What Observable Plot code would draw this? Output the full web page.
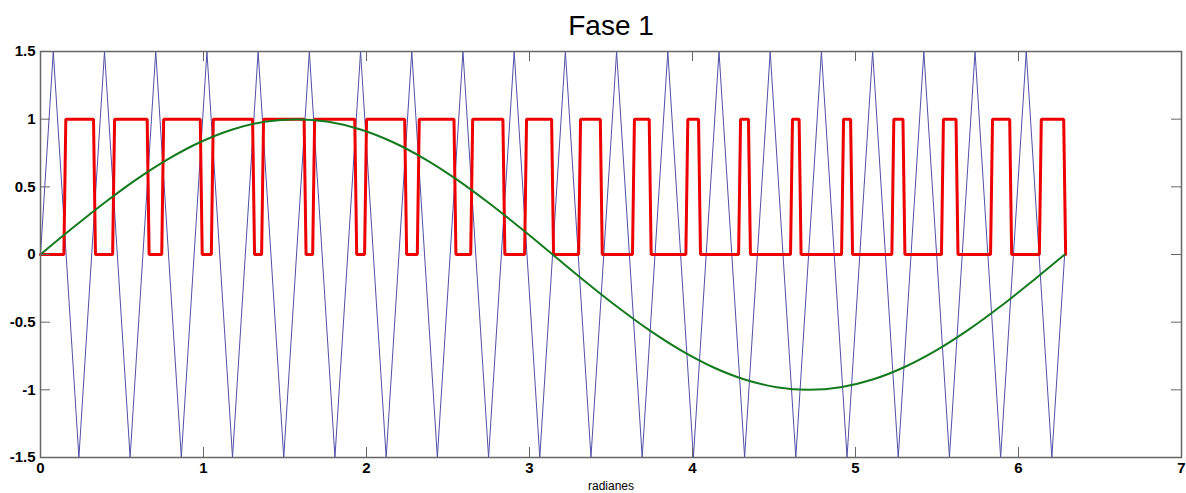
<!DOCTYPE html>
<html>
<head>
<meta charset="utf-8">
<script src="https://cdn.jsdelivr.net/npm/d3@7"></script>
<script src="https://cdn.jsdelivr.net/npm/@observablehq/plot@0.6"></script>
<style>
  html, body { margin: 0; padding: 0; background: #fff; }
  #chart svg { display: block; }
</style>
</head>
<body>
<div id="chart"></div>
<script>
// ---- data ----
const title = "Fase 1";
const xLabel = "radianes";
const xTicks = [0, 1, 2, 3, 4, 5, 6, 7];
const xTickLabels = ["0", "1", "2", "3", "4", "5", "6", "7"];
const yTicks = [-1.5, -1, -0.5, 0, 0.5, 1, 1.5];
const yTickLabels = ["-1.5", "-1", "-0.5", "0", "0.5", "1", "1.5"];

// triangular carrier: vertex times (rad) and values
const carrierT = [0,
  0.0785, 0.2356, 0.3927, 0.5498, 0.7069, 0.8639, 1.0210, 1.1781, 1.3352, 1.4923,
  1.6493, 1.8064, 1.9635, 2.1206, 2.2777, 2.4347, 2.5918, 2.7489, 2.9060, 3.0631,
  3.2201, 3.3772, 3.5343, 3.6914, 3.8485, 4.0055, 4.1626, 4.3197, 4.4768, 4.6338,
  4.7909, 4.9480, 5.1051, 5.2622, 5.4192, 5.5763, 5.7334, 5.8905, 6.0476, 6.2046,
  6.2832];
const carrierV = [0,
  1.5, -1.5, 1.5, -1.5, 1.5, -1.5, 1.5, -1.5, 1.5, -1.5,
  1.5, -1.5, 1.5, -1.5, 1.5, -1.5, 1.5, -1.5, 1.5, -1.5,
  1.5, -1.5, 1.5, -1.5, 1.5, -1.5, 1.5, -1.5, 1.5, -1.5,
  1.5, -1.5, 1.5, -1.5, 1.5, -1.5, 1.5, -1.5, 1.5, -1.5,
  0];

// reference (modulating) wave samples
const sineT = [0, 0.1963, 0.3927, 0.5890, 0.7854, 0.9817, 1.1781, 1.3744, 1.5708,
  1.7671, 1.9635, 2.1598, 2.3562, 2.5525, 2.7489, 2.9452, 3.1416,
  3.3379, 3.5343, 3.7306, 3.9270, 4.1233, 4.3197, 4.5160, 4.7124,
  4.9087, 5.1051, 5.3014, 5.4978, 5.6941, 5.8905, 6.0868, 6.2832];
const sineV = [0, 0.1951, 0.3827, 0.5556, 0.7071, 0.8315, 0.9239, 0.9808, 1,
  0.9808, 0.9239, 0.8315, 0.7071, 0.5556, 0.3827, 0.1951, 0,
  -0.1951, -0.3827, -0.5556, -0.7071, -0.8315, -0.9239, -0.9808, -1,
  -0.9808, -0.9239, -0.8315, -0.7071, -0.5556, -0.3827, -0.1951, 0];

// PWM output: switching instants (rad), alternating rise / fall, starting at 0
const pwmStart = 0;
const pwmEdges = [
  0.1493, 0.3312, 0.4486, 0.6604, 0.7497, 0.9861, 1.0540, 1.3072,
  1.3625, 1.6231, 1.6758, 1.9339, 1.9943, 2.2402, 2.3177, 2.5427,
  2.6454, 2.8428, 2.9759, 3.1416, 3.3073, 3.4404, 3.6378, 3.7404,
  3.9653, 4.0430, 4.2889, 4.3493, 4.6074, 4.6601, 4.9207, 4.9759,
  5.2291, 5.2971, 5.5334, 5.6227, 5.8346, 5.9520, 6.1339, 6.2832];

// ---- build tables ----
const carrier = carrierT.map((t, i) => ({t, v: carrierV[i]}));
const sine = sineT.map((t, i) => ({t, v: sineV[i]}));
const ramp = 0.006; // sampling slope of each transition
const pwm = [{t: 0, v: pwmStart}];
let level = pwmStart;
for (const e of pwmEdges) {
  pwm.push({t: e - ramp, v: level});
  level = 1 - level;
  pwm.push({t: e + ramp, v: level});
}

const W = 1186, H = 493;
const mL = 40, mR = 5, mT = 51, mB = 36;
const innerW = W - mL - mR, innerH = H - mT - mB;
const tickLen = 10;
const frameColor = "#666";

const chart = Plot.plot({
  width: W,
  height: H,
  marginLeft: mL,
  marginRight: mR,
  marginTop: mT,
  marginBottom: mB,
  style: {fontFamily: "'Liberation Sans', Arial, sans-serif", background: "#fff", color: "#000"},
  x: {domain: [0, 7]},
  y: {domain: [-1.5, 1.5]},
  marks: [
    Plot.line(carrier, {x: "t", y: "v", stroke: "#4f4fa8", strokeWidth: 1}),
    Plot.line(pwm, {x: "t", y: "v", stroke: "#ee0000", strokeWidth: 3, strokeLinejoin: "miter"}),
    Plot.line(sine, {x: "t", y: "v", stroke: "#137a1d", strokeWidth: 2, curve: "catmull-rom"}),
    // inward ticks
    Plot.tickX(xTicks, {x: d => d, insetTop: innerH - tickLen, stroke: frameColor}),
    Plot.tickX(xTicks, {x: d => d, insetBottom: innerH - tickLen, stroke: frameColor}),
    Plot.tickY(yTicks, {y: d => d, insetRight: innerW - tickLen, stroke: frameColor}),
    Plot.tickY(yTicks, {y: d => d, insetLeft: innerW - tickLen, stroke: frameColor}),
    Plot.frame({stroke: frameColor, strokeWidth: 1.5}),
    // tick labels
    Plot.axisX({ticks: xTicks, tickFormat: (d, i) => xTickLabels[i], tickSize: 0, tickPadding: 5, fontSize: 15, fontWeight: "bold", label: null}),
    Plot.axisY({ticks: yTicks, tickFormat: (d, i) => yTickLabels[i], tickSize: 0, tickPadding: 5, fontSize: 15, fontWeight: "bold", label: null}),
    // title and x label
    Plot.text([title], {text: d => d, frameAnchor: "top", lineAnchor: "top", dy: -36, fontSize: 28}),
    Plot.text([xLabel], {text: d => d, frameAnchor: "bottom", lineAnchor: "top", dy: 24, fontSize: 12})
  ]
});
document.getElementById("chart").appendChild(chart);
</script>
</body>
</html>
